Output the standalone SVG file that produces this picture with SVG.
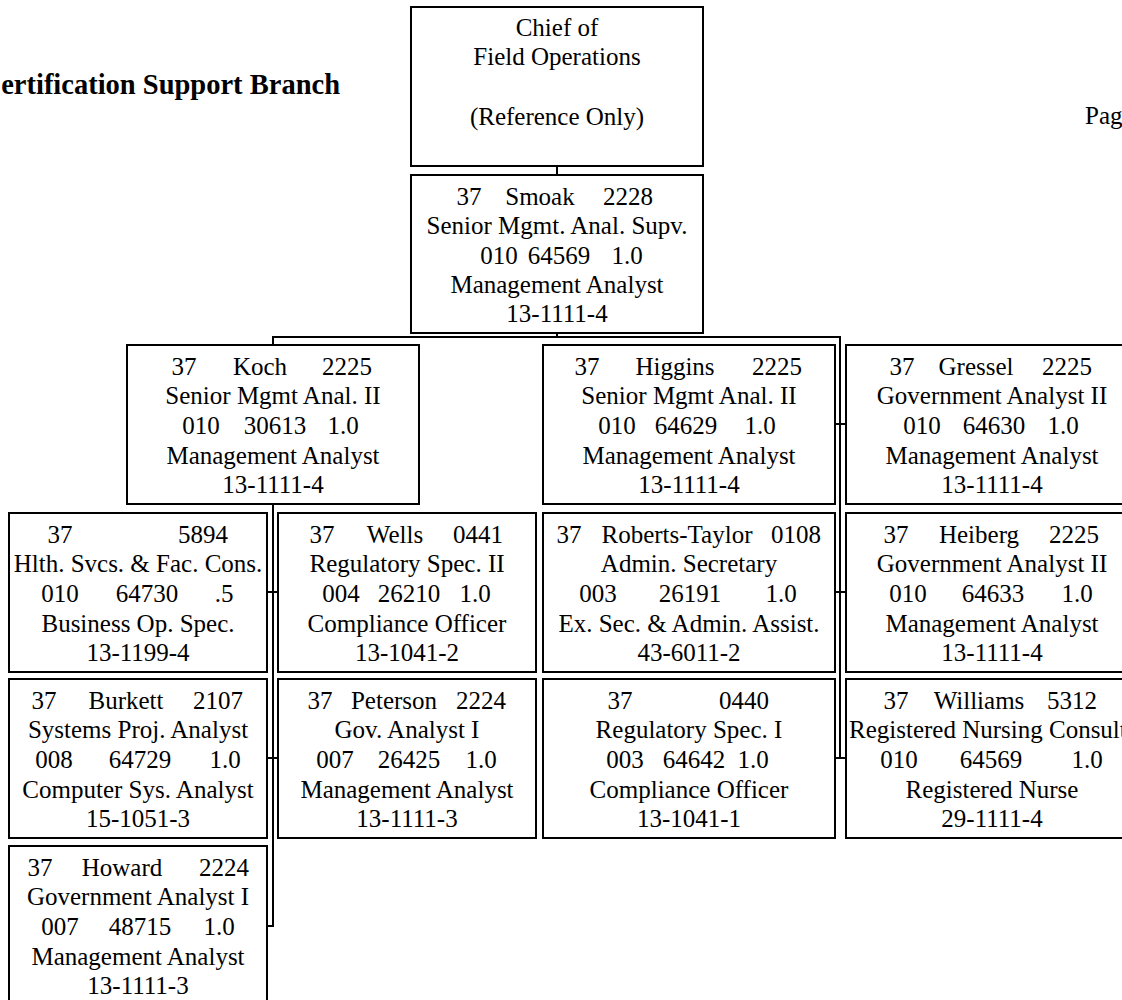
<svg xmlns="http://www.w3.org/2000/svg" width="1122" height="1000" viewBox="0 0 1122 1000">
  <style>
    .box { fill: #fff; stroke: #000; stroke-width: 2; }
    .wire { fill: none; stroke: #000; stroke-width: 2; }
    text { font-family: "Liberation Serif", "Times New Roman", serif; font-size: 25px; fill: #000; text-anchor: middle; }
    .title { font-size: 28.5px; font-weight: bold; text-anchor: end; }
    .page { text-anchor: start; }
  </style>
  <rect width="1122" height="1000" fill="#fff"/>

  <text class="title" x="340" y="94">ertification Support Branch</text>
  <text class="page" x="1085" y="124">Pag</text>

  <!-- reporting lines -->
  <g id="connectors">
    <path class="wire" d="M557 166 V175"/>
    <path class="wire" d="M557 333 V337 M273 345 V337 H840 V758"/>
    <path class="wire" d="M273 504 V926 H267"/>
    <path class="wire" d="M267 592 H278 M267 758 H278"/>
    <path class="wire" d="M835 424 H846 M835 592 H846 M835 758 H846"/>
  </g>

  <g id="chief">
    <rect class="box" x="411" y="7" width="292" height="159"/>
    <text x="557" y="36">Chief of</text>
    <text x="557" y="65">Field Operations</text>
    <text x="557" y="125">(Reference Only)</text>
  </g>

  <g id="smoak">
    <rect class="box" x="411" y="175" width="292" height="158"/>
    <text x="469" y="205">37</text><text x="540" y="205">Smoak</text><text x="628" y="205">2228</text>
    <text x="557" y="234">Senior Mgmt. Anal. Supv.</text>
    <text x="499" y="264">010</text><text x="559" y="264">64569</text><text x="627" y="264">1.0</text>
    <text x="557" y="293">Management Analyst</text>
    <text x="557" y="322">13-1111-4</text>
  </g>

  <g id="koch">
    <rect class="box" x="127" y="345" width="292" height="159"/>
    <text x="184" y="375">37</text><text x="260" y="375">Koch</text><text x="347" y="375">2225</text>
    <text x="273" y="404">Senior Mgmt Anal. II</text>
    <text x="201" y="434">010</text><text x="275" y="434">30613</text><text x="343" y="434">1.0</text>
    <text x="273" y="464">Management Analyst</text>
    <text x="273" y="493">13-1111-4</text>
  </g>

  <g id="higgins">
    <rect class="box" x="543" y="345" width="292" height="159"/>
    <text x="587" y="375">37</text><text x="675" y="375">Higgins</text><text x="777" y="375">2225</text>
    <text x="689" y="404">Senior Mgmt Anal. II</text>
    <text x="617" y="434">010</text><text x="686" y="434">64629</text><text x="760" y="434">1.0</text>
    <text x="689" y="464">Management Analyst</text>
    <text x="689" y="493">13-1111-4</text>
  </g>

  <g id="gressel">
    <rect class="box" x="846" y="345" width="292" height="159"/>
    <text x="902" y="375">37</text><text x="976" y="375">Gressel</text><text x="1067" y="375">2225</text>
    <text x="992" y="404">Government Analyst II</text>
    <text x="922" y="434">010</text><text x="994" y="434">64630</text><text x="1063" y="434">1.0</text>
    <text x="992" y="464">Management Analyst</text>
    <text x="992" y="493">13-1111-4</text>
  </g>

  <g id="pos-5894">
    <rect class="box" x="9" y="513" width="258" height="159"/>
    <text x="60" y="543">37</text><text x="203" y="543">5894</text>
    <text x="138" y="572">Hlth. Svcs. &amp; Fac. Cons.</text>
    <text x="60" y="602">010</text><text x="147" y="602">64730</text><text x="224" y="602">.5</text>
    <text x="138" y="632">Business Op. Spec.</text>
    <text x="138" y="661">13-1199-4</text>
  </g>

  <g id="wells">
    <rect class="box" x="278" y="513" width="258" height="159"/>
    <text x="322" y="543">37</text><text x="395" y="543">Wells</text><text x="478" y="543">0441</text>
    <text x="407" y="572">Regulatory Spec. II</text>
    <text x="341" y="602">004</text><text x="409" y="602">26210</text><text x="475" y="602">1.0</text>
    <text x="407" y="632">Compliance Officer</text>
    <text x="407" y="661">13-1041-2</text>
  </g>

  <g id="roberts-taylor">
    <rect class="box" x="543" y="513" width="292" height="159"/>
    <text x="569" y="543">37</text><text x="677" y="543">Roberts-Taylor</text><text x="796" y="543">0108</text>
    <text x="689" y="572">Admin. Secretary</text>
    <text x="598" y="602">003</text><text x="690" y="602">26191</text><text x="781" y="602">1.0</text>
    <text x="689" y="632">Ex. Sec. &amp; Admin. Assist.</text>
    <text x="689" y="661">43-6011-2</text>
  </g>

  <g id="heiberg">
    <rect class="box" x="846" y="513" width="292" height="159"/>
    <text x="896" y="543">37</text><text x="979" y="543">Heiberg</text><text x="1074" y="543">2225</text>
    <text x="992" y="572">Government Analyst II</text>
    <text x="908" y="602">010</text><text x="993" y="602">64633</text><text x="1077" y="602">1.0</text>
    <text x="992" y="632">Management Analyst</text>
    <text x="992" y="661">13-1111-4</text>
  </g>

  <g id="burkett">
    <rect class="box" x="9" y="679" width="258" height="159"/>
    <text x="44" y="709">37</text><text x="126" y="709">Burkett</text><text x="218" y="709">2107</text>
    <text x="138" y="738">Systems Proj. Analyst</text>
    <text x="54" y="768">008</text><text x="140" y="768">64729</text><text x="225" y="768">1.0</text>
    <text x="138" y="798">Computer Sys. Analyst</text>
    <text x="138" y="827">15-1051-3</text>
  </g>

  <g id="peterson">
    <rect class="box" x="278" y="679" width="258" height="159"/>
    <text x="320" y="709">37</text><text x="394" y="709">Peterson</text><text x="481" y="709">2224</text>
    <text x="407" y="738">Gov. Analyst I</text>
    <text x="335" y="768">007</text><text x="409" y="768">26425</text><text x="481" y="768">1.0</text>
    <text x="407" y="798">Management Analyst</text>
    <text x="407" y="827">13-1111-3</text>
  </g>

  <g id="pos-0440">
    <rect class="box" x="543" y="679" width="292" height="159"/>
    <text x="620" y="709">37</text><text x="744" y="709">0440</text>
    <text x="689" y="738">Regulatory Spec. I</text>
    <text x="625" y="768">003</text><text x="694" y="768">64642</text><text x="753" y="768">1.0</text>
    <text x="689" y="798">Compliance Officer</text>
    <text x="689" y="827">13-1041-1</text>
  </g>

  <g id="williams">
    <rect class="box" x="846" y="679" width="292" height="159"/>
    <text x="896" y="709">37</text><text x="979" y="709">Williams</text><text x="1072" y="709">5312</text>
    <text class="page" x="849" y="738">Registered Nursing Consult</text>
    <text x="899" y="768">010</text><text x="991" y="768">64569</text><text x="1087" y="768">1.0</text>
    <text x="992" y="798">Registered Nurse</text>
    <text x="992" y="827">29-1111-4</text>
  </g>

  <g id="howard">
    <rect class="box" x="9" y="846" width="258" height="159"/>
    <text x="40" y="876">37</text><text x="122" y="876">Howard</text><text x="224" y="876">2224</text>
    <text x="138" y="905">Government Analyst I</text>
    <text x="60" y="935">007</text><text x="140" y="935">48715</text><text x="219" y="935">1.0</text>
    <text x="138" y="965">Management Analyst</text>
    <text x="138" y="994">13-1111-3</text>
  </g>
</svg>
